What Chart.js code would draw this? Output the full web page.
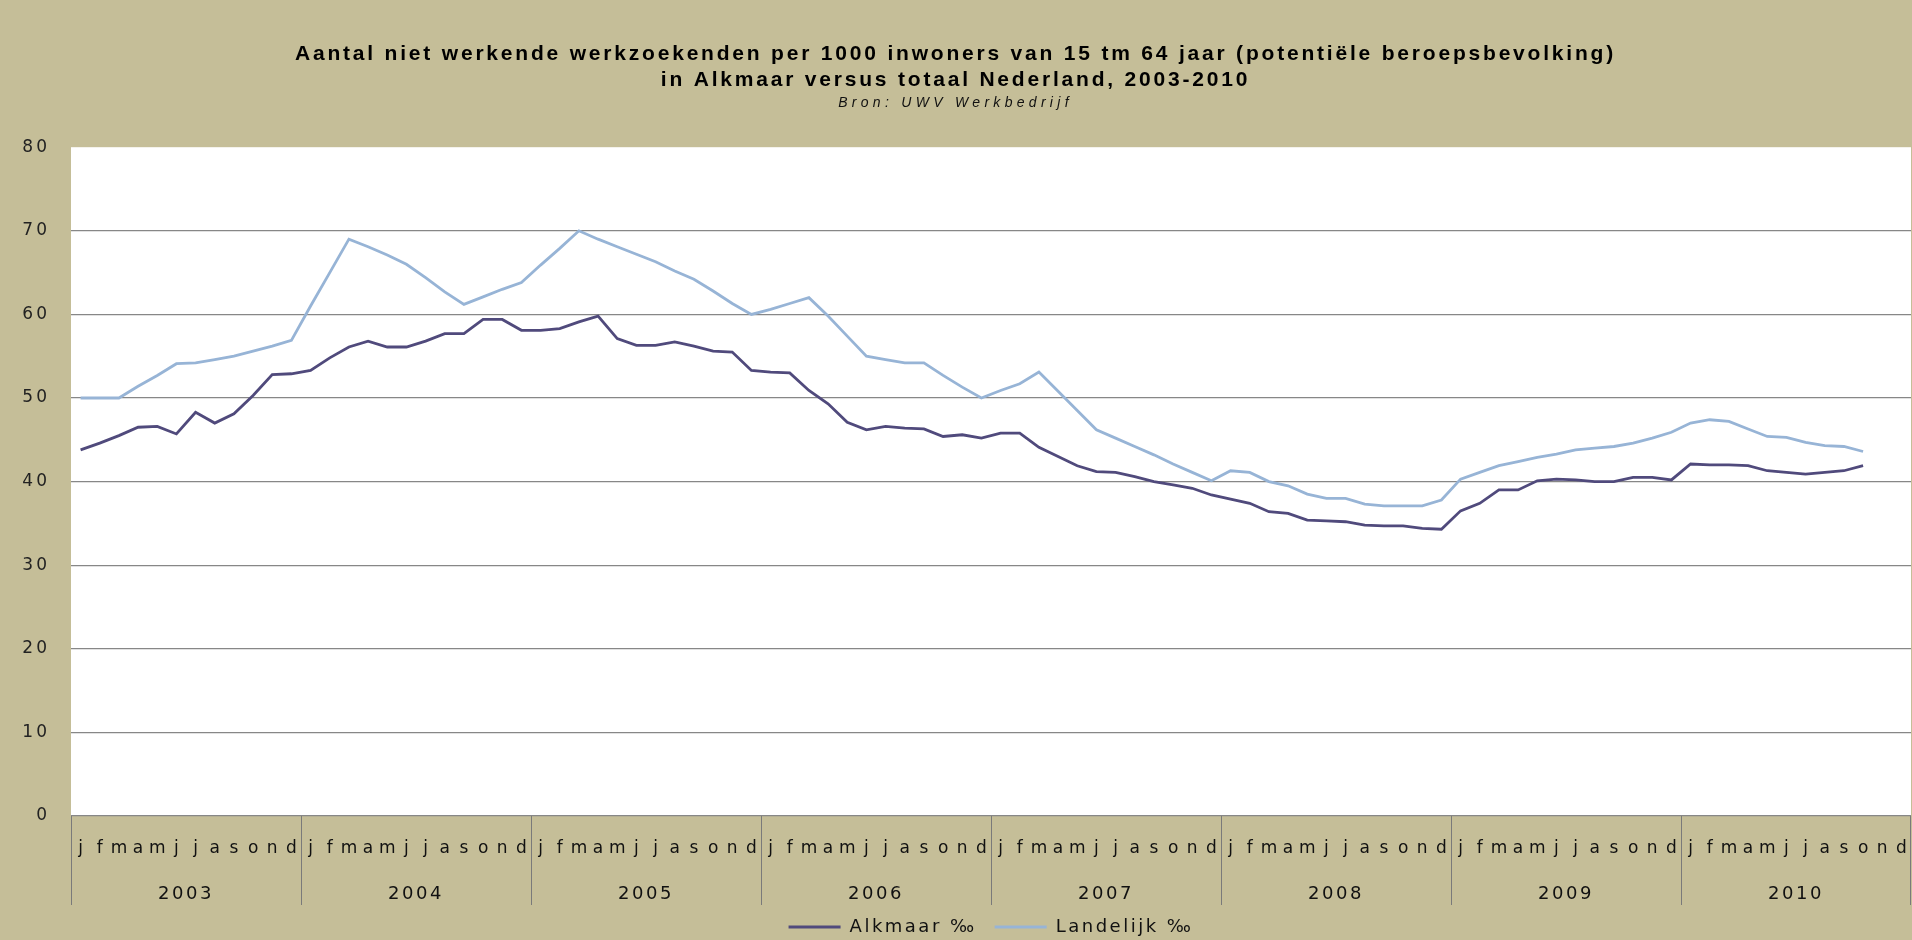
<!DOCTYPE html>
<html>
<head>
<meta charset="utf-8">
<script src="https://cdn.jsdelivr.net/npm/chart.js@4.4.1/dist/chart.umd.min.js"></script>
<style>
  html, body { margin: 0; padding: 0; background: #C5BE98; }
  canvas { display: block; background: #C5BE98; }
</style>
</head>
<body>
<canvas id="c" width="1912" height="940"></canvas>
<script>
// ---- data ----
const monthLetters = ['j','f','m','a','m','j','j','a','s','o','n','d'];
const years = ['2003','2004','2005','2006','2007','2008','2009','2010'];
const yTicks = [0, 10, 20, 30, 40, 50, 60, 70, 80];

const alkmaar = [
  43.8, 44.6, 45.5, 46.5, 46.6, 45.7, 48.3, 47.0, 48.1, 50.3, 52.8, 52.9,   // 2003
  53.3, 54.8, 56.1, 56.8, 56.1, 56.1, 56.8, 57.7, 57.7, 59.4, 59.4, 58.1,   // 2004
  58.1, 58.3, 59.1, 59.8, 57.1, 56.3, 56.3, 56.7, 56.2, 55.6, 55.5, 53.3,   // 2005
  53.1, 53.0, 50.9, 49.3, 47.1, 46.2, 46.6, 46.4, 46.3, 45.4, 45.6, 45.2,   // 2006
  45.8, 45.8, 44.1, 43.0, 41.9, 41.2, 41.1, 40.6, 40.0, 39.6, 39.2, 38.4,   // 2007
  37.9, 37.4, 36.4, 36.2, 35.4, 35.3, 35.2, 34.8, 34.7, 34.7, 34.4, 34.3,   // 2008
  36.5, 37.4, 39.0, 39.0, 40.1, 40.3, 40.2, 40.0, 40.0, 40.5, 40.5, 40.2,   // 2009
  42.1, 42.0, 42.0, 41.9, 41.3, 41.1, 40.9, 41.1, 41.3, 41.9                // 2010 (t/m okt)
];
const landelijk = [
  50.0, 50.0, 50.0, 51.4, 52.7, 54.1, 54.2, 54.6, 55.0, 55.6, 56.2, 56.9,   // 2003
  61.0, 65.0, 69.0, 68.1, 67.1, 66.0, 64.4, 62.7, 61.2, 62.1, 63.0, 63.8,   // 2004
  65.9, 67.9, 70.0, 69.0, 68.1, 67.2, 66.3, 65.2, 64.2, 62.8, 61.3, 60.0,   // 2005
  60.6, 61.3, 62.0, 59.8, 57.4, 55.0, 54.6, 54.2, 54.2, 52.7, 51.3, 50.0,   // 2006
  50.9, 51.7, 53.1, 50.8, 48.5, 46.2, 45.2, 44.2, 43.2, 42.1, 41.1, 40.1,   // 2007
  41.3, 41.1, 40.0, 39.5, 38.5, 38.0, 38.0, 37.3, 37.1, 37.1, 37.1, 37.8,   // 2008
  40.3, 41.1, 41.9, 42.4, 42.9, 43.3, 43.8, 44.0, 44.2, 44.6, 45.2, 45.9,   // 2009
  47.0, 47.4, 47.2, 46.3, 45.4, 45.3, 44.7, 44.3, 44.2, 43.6                // 2010 (t/m okt)
];

const titleLines = [
  'Aantal niet werkende werkzoekenden per 1000 inwoners van 15 tm 64 jaar (potentiële beroepsbevolking)',
  'in Alkmaar versus totaal Nederland, 2003-2010'
];
const subtitleText = 'Bron: UWV Werkbedrijf';
const seriesNames = ['Alkmaar ‰', 'Landelijk ‰'];

// category labels: one month letter per month, 8 years
const labels = [];
years.forEach(() => monthLetters.forEach(m => labels.push(m)));

// ---- styling ----
const BG = '#C5BE98';
const DARK = '#504A7C';
const LIGHT = '#97B4D6';
const GRID = '#878787';
const tickFont = 'DejaVu Sans';

// white plot area on tan background
const plotBg = {
  id: 'plotBg',
  beforeDraw(chart) {
    const {ctx, chartArea: a} = chart;
    ctx.save();
    ctx.fillStyle = BG;
    ctx.fillRect(0, 0, chart.width, chart.height);
    ctx.fillStyle = '#ffffff';
    ctx.fillRect(a.left, a.top, a.right - a.left, a.bottom - a.top);
    ctx.restore();
  }
};

// letter spacing per box (text in the reference is widely spaced)
const spacing = {
  id: 'spacing',
  beforeLayout(chart) {
    chart.ctx.letterSpacing = '2.5px';
    const wrap = (obj, ls) => {
      if (!obj || obj.__ls) return;
      const orig = obj.draw;
      obj.draw = function(...args) {
        const c = chart.ctx;
        c.save();
        c.letterSpacing = ls;
        orig.apply(this, args);
        c.restore();
      };
      obj.__ls = true;
    };
    chart.boxes.forEach(b => {
      if (b === chart.titleBlock) wrap(b, '2.8px');
      else if (b === chart.legend) wrap(b, '2.5px');
      else if (b.id === 'y') wrap(b, '3px');
      else if (b.id === 'x2') wrap(b, '2.5px');
      else if (b.id === 'x') wrap(b, '0px');
      else if (b.options && b.options.text === subtitleText) wrap(b, '4.3px');
    });
  },
  afterLayout(chart) { chart.ctx.letterSpacing = '0px'; }
};

new Chart(document.getElementById('c'), {
  type: 'line',
  data: {
    labels: labels,
    datasets: [
      { label: seriesNames[0], data: alkmaar, borderColor: DARK, backgroundColor: DARK,
        borderWidth: 2.8, pointRadius: 0, tension: 0 },
      { label: seriesNames[1], data: landelijk, borderColor: LIGHT, backgroundColor: LIGHT,
        borderWidth: 2.8, pointRadius: 0, tension: 0 }
    ]
  },
  options: {
    responsive: false,
    animation: false,
    devicePixelRatio: 1,
    layout: { padding: { left: 0, right: 1, top: 0, bottom: -6 } },
    plugins: {
      tooltip: { enabled: false },
      title: {
        display: true,
        text: titleLines,
        color: '#000',
        font: { family: 'Liberation Sans', size: 21, weight: 'bold', lineHeight: 1.2 },
        padding: { top: 42, bottom: 0 }
      },
      subtitle: {
        display: true,
        text: subtitleText,
        color: '#111',
        font: { family: 'Liberation Sans', size: 14, style: 'italic', lineHeight: 1.2 },
        padding: { top: 2, bottom: 36 }
      },
      legend: {
        position: 'bottom',
        fullSize: false,
        labels: {
          boxWidth: 52,
          boxHeight: 3,
          padding: 18,
          color: '#111',
          font: { family: tickFont, size: 18 },
          generateLabels(chart) {
            return Chart.defaults.plugins.legend.labels.generateLabels(chart)
              .map(l => Object.assign(l, { lineWidth: 0 }));
          }
        }
      }
    },
    scales: {
      y: {
        min: yTicks[0],
        max: yTicks[yTicks.length - 1],
        afterBuildTicks(s) { s.ticks = yTicks.map(v => ({ value: v })); },
        border: { display: false },
        grid: {
          color: c => (c.tick && c.tick.value === yTicks[yTicks.length - 1]) ? 'rgba(0,0,0,0)' : GRID,
          lineWidth: 1.2,
          drawTicks: false
        },
        ticks: { padding: 21, color: '#222', font: { family: tickFont, size: 17 } },
        afterFit(s) { s.width = 71; }
      },
      x: {
        type: 'category',
        offset: true,
        border: { display: false },
        grid: {
          offset: true,
          drawOnChartArea: false,
          drawTicks: true,
          tickLength: 89,
          lineWidth: 1,
          color: c => (c.index === undefined || c.index % 12 === 0) ? '#7a7a7a' : 'rgba(0,0,0,0)'
        },
        ticks: {
          autoSkip: false, maxRotation: 0, minRotation: 0,
          padding: -67, color: '#111',
          font: { family: tickFont, size: 17 }
        },
        afterFit(s) { s.height = 44; }
      },
      x2: {
        type: 'category',
        position: 'bottom',
        weight: 1,
        labels: years,
        offset: true,
        border: { display: false },
        grid: { display: false },
        ticks: {
          autoSkip: false, maxRotation: 0, minRotation: 0,
          padding: 16, color: '#111',
          font: { family: tickFont, size: 18 }
        },
        afterFit(s) { s.height = 40; }
      }
    }
  },
  plugins: [plotBg, spacing]
});
</script>
</body>
</html>
